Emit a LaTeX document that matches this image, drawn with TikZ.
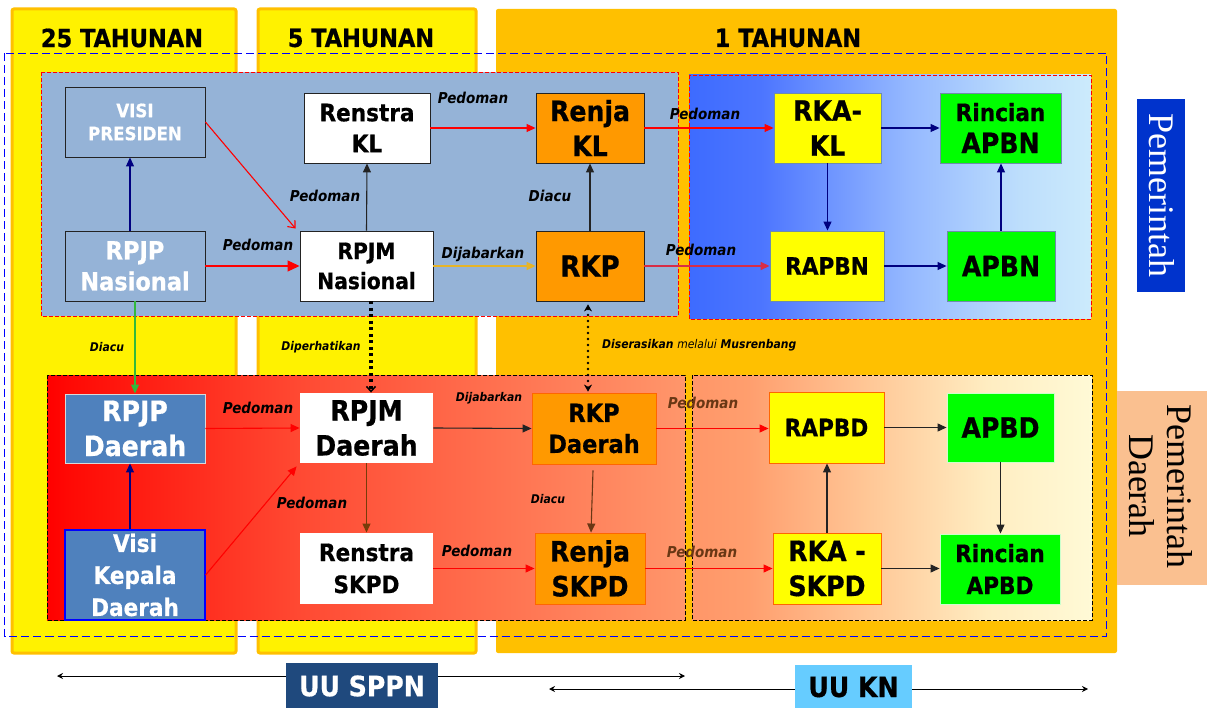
\documentclass[tikz,border=0pt]{standalone}
\usepackage{fontspec}
\usetikzlibrary{arrows.meta}
\IfFontExistsTF{DejaVu Sans Condensed}{\newfontfamily\df{DejaVu Sans Condensed}[BoldFeatures={FakeBold=0.6}]}{\newfontfamily\df{DejaVu Sans}[FakeStretch=0.9,BoldFeatures={FakeBold=0.6}]}
\newfontfamily\tnr{Liberation Serif}
\newcommand\bfz[2]{\df\bfseries\fontsize{#1}{#2}\selectfont}
\newcommand\fsz[2]{\fontsize{#1}{#2}\selectfont}
\definecolor{bandor}{RGB}{255,192,0}
\definecolor{topbg}{RGB}{149,179,215}
\definecolor{orbox}{RGB}{255,153,0}
\definecolor{orbord}{RGB}{255,102,0}
\definecolor{dblue}{RGB}{79,129,189}
\definecolor{navyc}{RGB}{0,0,128}
\definecolor{golden}{RGB}{230,180,40}
\definecolor{brownc}{RGB}{120,60,10}
\definecolor{brownl}{RGB}{105,55,20}
\definecolor{crim}{RGB}{215,45,70}
\definecolor{darkc}{RGB}{35,35,35}
\definecolor{pemblue}{RGB}{0,51,204}
\definecolor{peach}{RGB}{250,192,144}
\definecolor{uublue}{RGB}{31,73,125}
\definecolor{uulight}{RGB}{102,204,255}
\definecolor{grn}{RGB}{0,255,0}
\definecolor{ybox}{RGB}{255,255,0}
\definecolor{gbord}{RGB}{110,140,170}
\definecolor{greenl}{RGB}{50,185,60}
\pgfdeclarehorizontalshading{topright}{100bp}{rgb(0bp)=(0.24,0.42,1); rgb(25bp)=(0.24,0.42,1); rgb(34bp)=(0.30,0.46,1); rgb(52bp)=(0.58,0.72,1); rgb(66bp)=(0.74,0.87,0.99); rgb(75bp)=(0.80,0.92,0.99); rgb(100bp)=(0.80,0.92,0.99)}
\pgfdeclarehorizontalshading{botleft}{100bp}{rgb(0bp)=(1,0,0); rgb(25bp)=(1,0,0); rgb(27bp)=(1,0.04,0.02); rgb(45bp)=(1,0.29,0.2); rgb(75bp)=(1,0.59,0.42); rgb(100bp)=(1,0.59,0.42)}
\pgfdeclarehorizontalshading{botright}{100bp}{rgb(0bp)=(1,0.59,0.41); rgb(25bp)=(1,0.59,0.41); rgb(32bp)=(1,0.62,0.43); rgb(47bp)=(1,0.78,0.59); rgb(62bp)=(1,0.93,0.76); rgb(75bp)=(1,0.98,0.84); rgb(100bp)=(1,0.98,0.84)}
\tikzset{
  bx/.style={rectangle, inner sep=0pt, align=center, line width=0.9pt},
  lbl/.style={font=\df\bfseries\itshape\fsz{15}{18}, inner sep=0pt},
  slbl/.style={font=\df\bfseries\itshape\fsz{12}{14}, inner sep=0pt},
  conn/.style={line width=1.1pt},
  tri/.style={-{Triangle[length=9pt,width=8pt]}},
  bigtri/.style={-{Triangle[length=12pt,width=11pt]}},
}
\begin{document}
\begin{tikzpicture}[x=1pt,y=-1pt]
\useasboundingbox (0,0) rectangle (1207,708);
% bands
\draw[bandor, line width=3pt, fill=yellow, rounded corners=2pt] (12,9) rectangle (236,653);
\draw[bandor, line width=3pt, fill=yellow, rounded corners=2pt] (258,9) rectangle (476,653);
\fill[bandor, rounded corners=2pt] (496,9) rectangle (1117,653);
\node[font=\bfz{25}{30}] (t25) at (122,38) {25 TAHUNAN};
\node[font=\bfz{25}{30}] (t5) at (361,38) {5 TAHUNAN};
\node[font=\bfz{25}{30}] (t1) at (788,38) {1 TAHUNAN};
% outer dashed
\draw[blue, dash pattern=on 8pt off 4pt, line width=0.8pt] (4.5,53) rectangle (1106,636);
% regions
\draw[red, fill=topbg, dash pattern=on 4pt off 2pt, line width=0.8pt] (41,72) rectangle (678,316);
\shade[shading=topright] (689,75) rectangle (1091,319);
\draw[red, dash pattern=on 4pt off 2pt, line width=0.8pt] (689,75) rectangle (1091,319);
\shade[shading=botleft] (47,375) rectangle (685,620);
\draw[black, dash pattern=on 4pt off 2pt, line width=0.8pt] (47,375) rectangle (685,620);
\shade[shading=botright] (692,375) rectangle (1092,620);
\draw[black, dash pattern=on 4pt off 2pt, line width=0.8pt] (692,375) rectangle (1092,620);
% side labels
\node[bx, fill=pemblue, minimum width=48pt, minimum height=193pt] (pembox) at (1161,195.5) {};
\node[rotate=-90, text=white, font=\tnr\fsz{36}{38}] (pem) at (1162,195) {Pemerintah};
\node[bx, fill=peach, minimum width=92pt, minimum height=194pt] (pemdbox) at (1163,488) {};
\node[rotate=-90, align=center, font=\tnr\fsz{36}{38}] (pemd) at (1161,486) {Pemerintah\\Daerah};
% top nodes
\node[bx, fill=topbg, draw=darkc, minimum width=140pt, minimum height=70pt, text=white, font=\bfz{18.5}{23}] (vp) at (135,122) {VISI\\PRESIDEN};
\node[bx, fill=topbg, draw=darkc, minimum width=140pt, minimum height=70pt, text=white, font=\bfz{25}{31}] (rpjpn) at (135,266) {RPJP\\Nasional};
\node[bx, fill=white, draw=darkc, minimum width=126pt, minimum height=70pt, font=\bfz{24}{31}] (renkl) at (367,128) {Renstra\\KL};
\node[bx, fill=white, draw=darkc, minimum width=133pt, minimum height=70pt, font=\bfz{22.5}{30}] (rpjmn) at (366.5,266) {RPJM\\Nasional};
\node[bx, fill=orbox, draw=darkc, minimum width=108pt, minimum height=70pt, font=\bfz{28}{35}] (rjkl) at (590,128) {Renja\\KL};
\node[bx, fill=orbox, draw=darkc, minimum width=108pt, minimum height=70pt, font=\bfz{29}{35}] (rkp) at (590,266) {RKP};
\node[bx, fill=ybox, draw=gbord, minimum width=107pt, minimum height=70pt, font=\bfz{28}{35}] (rkakl) at (827.5,128) {RKA-\\KL};
\node[bx, fill=grn, draw=gbord, minimum width=121pt, minimum height=70pt, font=\bfz{24}{32}] (rinbn) at (1000.5,128) {Rincian\\{\fsz{28}{32}APBN}};
\node[bx, fill=ybox, draw=gbord, minimum width=114pt, minimum height=70pt, font=\bfz{24}{30}] (rapbn) at (827,266) {RAPBN};
\node[bx, fill=grn, draw=gbord, minimum width=108pt, minimum height=70pt, font=\bfz{28}{34}] (apbn) at (1001,266) {APBN};
% bottom nodes
\node[bx, fill=dblue, draw=white!85!black, minimum width=140pt, minimum height=69pt, text=white, font=\bfz{28}{35}] (rpjpd) at (135,428.5) {RPJP\\Daerah};
\node[bx, fill=dblue, draw=blue, line width=1.2pt, minimum width=140pt, minimum height=90pt, text=white, font=\bfz{24}{32}] (vkd) at (135,575) {Visi\\Kepala\\Daerah};
\node[bx, fill=white, minimum width=133pt, minimum height=70pt, font=\bfz{28}{35}] (rpjmd) at (366.5,428) {RPJM\\Daerah};
\node[bx, fill=white, minimum width=133pt, minimum height=71pt, font=\bfz{24}{32}] (rensk) at (366.5,568.5) {Renstra\\SKPD};
\node[bx, fill=orbox, draw=orbord, minimum width=124pt, minimum height=71pt, font=\bfz{25}{31}] (rkpd) at (594,428.5) {RKP\\Daerah};
\node[bx, fill=orbox, draw=orbord, minimum width=110pt, minimum height=71pt, font=\bfz{28}{35}] (rjsk) at (590,568.5) {Renja\\SKPD};
\node[bx, fill=ybox, draw=orbord, minimum width=115pt, minimum height=71pt, font=\bfz{24}{30}] (rapbd) at (826.5,427.5) {RAPBD};
\node[bx, fill=grn, draw=white!80!green, minimum width=107pt, minimum height=69pt, font=\bfz{28}{34}] (apbd) at (1000.5,427.5) {APBD};
\node[bx, fill=ybox, draw=orbord, minimum width=108pt, minimum height=71pt, font=\bfz{28}{35}] (rkask) at (827,568.5) {RKA -\\SKPD};
\node[bx, fill=grn, draw=white!80!green, minimum width=120pt, minimum height=70pt, font=\bfz{24}{32}] (rinbd) at (1000,569) {Rincian\\APBD};
% top connectors
\draw[conn, navyc, tri] ([xshift=-5pt]rpjpn.north) -- ([xshift=-5pt]vp.south);
\draw[conn, red, -{Straight Barb[length=6pt,width=10pt]}] (vp.east) -- ([shift={(-4pt,2pt)}]rpjmn.north west);
\draw[conn, red, bigtri] (rpjpn.east) -- (rpjmn.west);
\draw[conn, darkc, tri] (rpjmn.north) -- (renkl.south);
\draw[conn, red, tri] (renkl.east) -- (rjkl.west);
\draw[conn, darkc, tri] (rkp.north) -- (rjkl.south);
\draw[line width=1.5pt, golden, tri] (rpjmn.east) -- (rkp.west);
\draw[conn, red, tri] (rjkl.east) -- (rkakl.west);
\draw[line width=1.5pt, crim, tri] (rkp.east) -- (rapbn.west);
\draw[conn, navyc, tri] (rkakl.east) -- (rinbn.west);
\draw[conn, navyc, tri] (rkakl.south) -- (rapbn.north -| rkakl.south);
\draw[conn, navyc, tri] (rapbn.east) -- (apbn.west);
\draw[conn, navyc, tri] (apbn.north) -- (rinbn.south -| apbn.north);
% middle connectors
\draw[conn, greenl, tri] (rpjpn.south) -- (rpjpd.north);
\draw[line width=3.5pt, black, dash pattern=on 3pt off 3.5pt, -{Straight Barb[length=5pt,width=9pt,line width=1.5pt]}] ([xshift=4.5pt]rpjmn.south) -- ([xshift=4.5pt]rpjmd.north);
\draw[line width=2.8pt, black, line cap=round, dash pattern=on 0pt off 6pt, {Stealth[length=7pt,width=8pt,line width=0.5pt]}-{Stealth[length=7pt,width=8pt,line width=0.5pt]}] ([shift={(-2pt,-3pt)}]rkp.south) -- ([shift={(-6pt,1pt)}]rkpd.north);
% bottom connectors
\draw[conn, navyc, tri] ([xshift=-5pt]vkd.north) -- ([xshift=-5pt]rpjpd.south);
\draw[conn, red, tri] (rpjpd.east) -- (rpjmd.west);
\draw[conn, red, tri] (vkd.east) -- ([shift={(-3pt,-3pt)}]rpjmd.south west);
\draw[conn, brownc, tri] (rpjmd.south) -- (rensk.north);
\draw[conn, darkc, tri] (rpjmd.east) -- (rkpd.west);
\draw[conn, brownl, tri] ([shift={(-1pt,-6pt)}]rkpd.south) -- ([xshift=1pt]rjsk.north);
\draw[conn, red, tri] (rensk.east) -- (rjsk.west);
\draw[conn, red, tri] (rkpd.east) -- (rkpd.east -| rapbd.west);
\draw[conn, red, tri] (rjsk.east) -- (rkask.west);
\draw[conn, darkc, tri] (rapbd.east) -- (rapbd.east -| apbd.west);
\draw[conn, darkc, tri] (rkask.north) -- (rapbd.south -| rkask.north);
\draw[conn, darkc, tri] (apbd.south) -- (rinbd.north -| apbd.south);
\draw[conn, darkc, tri] (rkask.east) -- (rkask.east -| rinbd.west);
% labels
\node[lbl] (l1) at (258,245) {Pedoman};
\node[lbl] (l2) at (325,196) {Pedoman};
\node[lbl] (l3) at (473,98) {Pedoman};
\node[lbl] (l4) at (550,196) {Diacu};
\node[lbl] (l5) at (483,254) {Dijabarkan};
\node[lbl] (l6) at (705,114) {Pedoman};
\node[lbl] (l7) at (701,250) {Pedoman};
\node[slbl] (l8) at (107,347) {Diacu};
\node[slbl] (l9) at (321,347) {Diperhatikan};
\node[slbl, anchor=west] (l10) at (602,345) {Diserasikan {\mdseries melalui} Musrenbang};
\node[lbl] (l11) at (258,407.5) {Pedoman};
\node[lbl] (l12) at (312,502.5) {Pedoman};
\node[slbl] (l13) at (489,398) {Dijabarkan};
\node[slbl] (l14) at (548,499) {Diacu};
\node[lbl] (l15) at (477,550.5) {Pedoman};
\node[lbl, text=brownl] (l16) at (703,403) {Pedoman};
\node[lbl, text=brownl] (l17) at (702,552) {Pedoman};
% bottom law arrows
\coordinate (a1) at (57,676);
\coordinate (a2) at (685,676);
\coordinate (b1) at (549,689);
\coordinate (b2) at (1088,689);
\draw[line width=1pt, {Stealth[length=6pt,width=6pt]}-{Stealth[length=6pt,width=6pt]}] (a1) -- (a2);
\draw[line width=1pt, {Stealth[length=6pt,width=6pt]}-{Stealth[length=6pt,width=6pt]}] (b1) -- (b2);
\node[bx, fill=uublue, text=white, minimum width=152pt, minimum height=46pt, font=\bfz{28}{32}] (uus) at (362,686) {UU SPPN};
\node[bx, fill=uulight, minimum width=117pt, minimum height=44pt, font=\bfz{28}{32}] (uuk) at (853.5,687) {UU KN};
\end{tikzpicture}
\end{document}
